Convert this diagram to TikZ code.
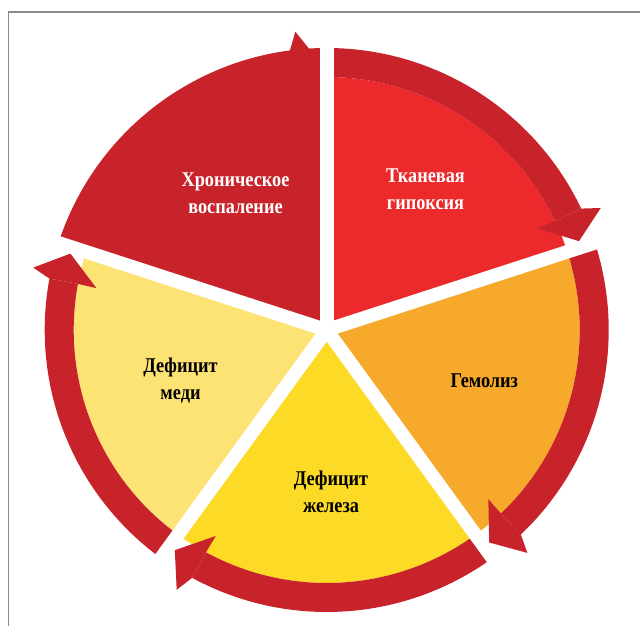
\documentclass[tikz,border=0pt]{standalone}
\usepackage{fontspec}
\newfontfamily\lblfont[FakeStretch=0.87]{Liberation Serif}
\definecolor{ringred}{HTML}{C8232B}
\definecolor{hypred}{HTML}{EC2A2B}
\definecolor{hemorange}{HTML}{F6A92B}
\definecolor{feyellow}{HTML}{FDDA25}
\definecolor{cuyellow}{HTML}{FDE374}
\definecolor{framegray}{HTML}{8C8C8C}
\tikzset{
  lbl/.style={font=\lblfont\bfseries\fontsize{21}{26.6}\selectfont, align=center, inner sep=0pt},
  gapline/.style={white, line width=13.6pt},
  framerule/.style={framegray, line width=1.6pt}
}
\def\Ro{282}
\def\Ri{253}
\def\ringband#1#2{\fill[ringred] (#1:\Ro) arc[start angle=#1,end angle=#2,radius=\Ro] -- (#2:\Ri) arc[start angle=#2,end angle=#1,radius=\Ri] -- cycle;}
\def\ringhead#1{\fill[ringred] ({#1+7.5}:\Ro) -- ({#1+6}:300) -- ({#1+1.4}:267.5) -- ({#1+7.7}:234) -- ({#1+7.5}:\Ri) -- cycle;}
\begin{document}
\begin{tikzpicture}[x=1pt,y=1pt]
\useasboundingbox (0,0) rectangle (640,626);
\fill[white] (0,0) rectangle (640,626);
\begin{scope}[shift={(326.7,296)}]
  % sectors
  \fill[ringred]   (0,0) -- (90:\Ro) arc[start angle=90,end angle=162,radius=\Ro] -- cycle;
  \fill[hypred]    (0,0) -- (18:\Ri) arc[start angle=18,end angle=90,radius=\Ri] -- cycle;
  \fill[hemorange] (0,0) -- (-54:\Ri) arc[start angle=-54,end angle=18,radius=\Ri] -- cycle;
  \fill[feyellow]  (0,0) -- (-126:\Ri) arc[start angle=-126,end angle=-54,radius=\Ri] -- cycle;
  \fill[cuyellow]  (0,0) -- (162:\Ri) arc[start angle=162,end angle=234,radius=\Ri] -- cycle;
  % ring bands
  \ringband{90}{25.5}
  \ringband{18}{-46.5}
  \ringband{-54}{-118.5}
  \ringband{234}{169.5}
  % gaps
  \foreach \g in {90,18,-54,-126,162} \draw[gapline] (0,0) -- (\g:310);
  % arrow heads
  \ringhead{90}
  \ringhead{18}
  \ringhead{-54}
  \ringhead{-126}
  \ringhead{162}
\end{scope}
% labels
\node[lbl, text=white] (chronic) at (235.5,433) {Хроническое\\воспаление};
\node[lbl, text=white] (hypoxia) at (425.5,437) {Тканевая\\гипоксия};
\node[lbl] (hemolysis) at (484.3,245.3) {Гемолиз};
\node[lbl] (iron) at (331,134) {Дефицит\\железа};
\node[lbl] (copper) at (180.5,245.5) {Дефицит\\меди};
% frame
\draw[framerule] (8.5,0) -- (8.5,614) -- (640,614);
\end{tikzpicture}
\end{document}
